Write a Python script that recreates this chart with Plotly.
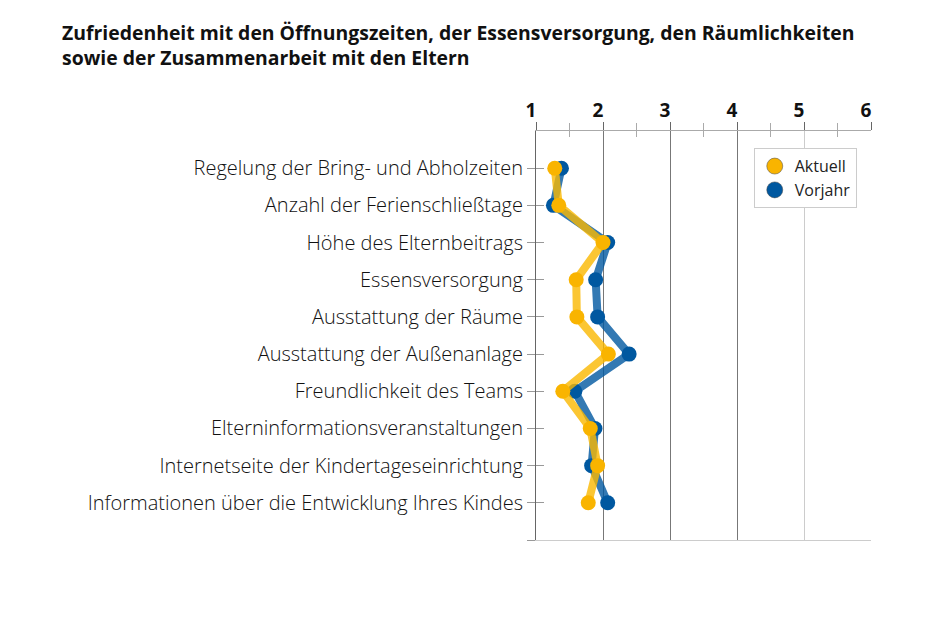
import plotly.graph_objects as go

categories = [
    "Regelung der Bring- und Abholzeiten",
    "Anzahl der Ferienschließtage",
    "Höhe des Elternbeitrags",
    "Essensversorgung",
    "Ausstattung der Räume",
    "Ausstattung der Außenanlage",
    "Freundlichkeit des Teams",
    "Elterninformationsveranstaltungen",
    "Internetseite der Kindertageseinrichtung",
    "Informationen über die Entwicklung Ihres Kindes",
]
aktuell = [1.28, 1.34, 2.00, 1.60, 1.61, 2.08, 1.40, 1.81, 1.92, 1.78]
vorjahr = [1.38, 1.26, 2.07, 1.89, 1.92, 2.39, 1.58, 1.88, 1.83, 2.07]
x_ticks = [1, 2, 3, 4, 5, 6]
title = "Zufriedenheit mit den Öffnungszeiten, der Essensversorgung, den Räumlichkeiten<br>sowie der Zusammenarbeit mit den Eltern"

idx = list(range(len(categories)))
FONT = "Open Sans"
BLUE_LINE = "rgba(0,88,160,0.8)"
BLUE = "#0058A0"
YEL_LINE = "rgba(250,184,0,0.8)"
YEL = "#F9B400"

fig = go.Figure()
fig.add_trace(go.Scatter(
    x=vorjahr, y=idx, name="Vorjahr", mode="lines+markers",
    line=dict(color=BLUE_LINE, width=8),
    marker=dict(color=BLUE, size=15), showlegend=False,
))
fig.add_trace(go.Scatter(
    x=aktuell, y=idx, name="Aktuell", mode="lines+markers",
    line=dict(color=YEL_LINE, width=8),
    marker=dict(color=YEL, size=15), showlegend=False,
))
fig.add_trace(go.Scatter(x=[None], y=[None], name="Aktuell", mode="markers",
                         marker=dict(color=YEL, size=16, line=dict(color="#444", width=0.5))))
fig.add_trace(go.Scatter(x=[None], y=[None], name="Vorjahr", mode="markers",
                         marker=dict(color=BLUE, size=16, line=dict(color="#444", width=0.5))))

fig.update_layout(
    width=940, height=626,
    margin=dict(l=536, r=69, t=131, b=86),
    paper_bgcolor="white", plot_bgcolor="white",
    title=dict(text=title, xref="container", x=62/940, xanchor="left",
               yref="container", y=1-40/626, yanchor="top",
               font=dict(family=FONT, size=19.4, color="#111", weight="bold")),
    showlegend=True,
    legend=dict(x=0.65, y=0.958, xanchor="left", yanchor="top",
                bgcolor="white", bordercolor="#cccccc", borderwidth=1,
                font=dict(family=FONT, size=16, color="#222"),
                itemwidth=30, tracegroupgap=0),
    xaxis=dict(range=[1, 6], side="top", tickvals=[2, 3, 4], showticklabels=False,
               ticks="", showgrid=True, gridcolor="#777777", gridwidth=1,
               showline=False, zeroline=False, fixedrange=True),
    xaxis2=dict(range=[1, 6], overlaying="x", side="top", anchor="y",
                tickvals=x_ticks, ticktext=[str(v) for v in x_ticks],
                tickfont=dict(family=FONT, size=19, color="#111", weight="bold"),
                ticks="outside", ticklen=8, tickcolor="#666", ticklabelstandoff=-3,
                ticklabelshift=-5,
                minor=dict(dtick=0.5, tick0=1, ticks="outside", ticklen=7, tickcolor="#aaa"),
                showline=True, linecolor="#aaaaaa", linewidth=1,
                showgrid=False, zeroline=False),
    xaxis3=dict(range=[1, 6], overlaying="x", side="top", anchor="y",
                tickvals=[1.5, 2.5, 3.5, 4.5, 5.5], showticklabels=False,
                ticks="inside", ticklen=6, tickcolor="#aaa",
                showgrid=False, zeroline=False),
    xaxis4=dict(range=[1, 6], overlaying="x", side="bottom", anchor="y",
                tickvals=[5, 6], showticklabels=False, ticks="",
                showgrid=True, gridcolor="#cccccc", gridwidth=1,
                showline=True, linecolor="#cccccc", linewidth=1, zeroline=False),
    yaxis=dict(range=[10, -1], tickvals=idx + [10], ticktext=categories + [""],
               tickfont=dict(family=FONT, size=20, color="#111", weight=300),
               ticks="outside", ticklen=8, tickcolor="#999", ticklabelstandoff=0,
               showline=True, linecolor="#666666", linewidth=1,
               showgrid=False, zeroline=False),
    yaxis2=dict(range=[10, -1], overlaying="y", anchor="x", side="left",
                tickvals=idx + [10], showticklabels=False,
                ticks="inside", ticklen=8, tickcolor="#999",
                showgrid=False, zeroline=False, showline=False),
)

for xa, ya in [("x2", "y"), ("x3", "y"), ("x4", "y"), ("x", "y2")]:
    fig.add_trace(go.Scatter(x=[None], y=[None], xaxis=xa, yaxis=ya,
                             showlegend=False, hoverinfo="skip"))

fig.write_html("out.html", config={"displayModeBar": False},
               post_script="document.body.style.margin='0';")
